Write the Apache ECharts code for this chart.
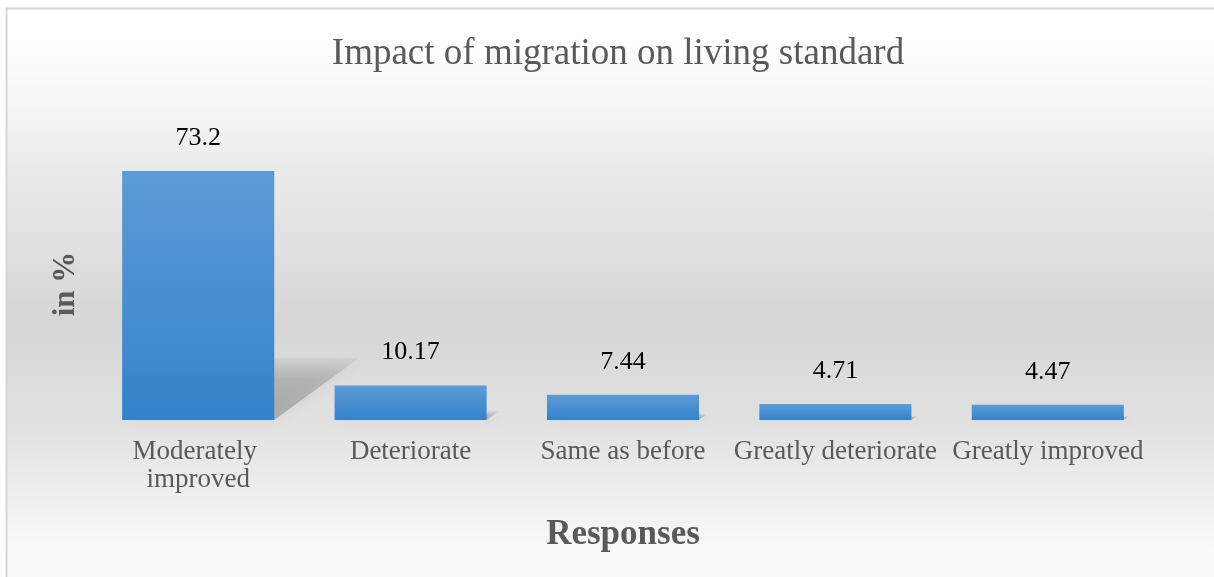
<!DOCTYPE html>
<html>
<head>
<meta charset="utf-8">
<script src="https://cdn.jsdelivr.net/npm/echarts@6/dist/echarts.min.js"></script>
<style>
html,body{margin:0;padding:0;background:#fff;}
#chart{width:1214px;height:577px;}
</style>
</head>
<body>
<div id="chart"></div>
<script>
const titleText = 'Impact of migration on living standard';
const categories = ['Moderately improved', 'Deteriorate', 'Same as before', 'Greatly deteriorate', 'Greatly improved'];
const values = [73.2, 10.17, 7.44, 4.71, 4.47];
const xAxisName = 'Responses';
const yAxisName = 'in %';

const serif = '"Liberation Serif", "DejaVu Serif", serif';
const chart = echarts.init(document.getElementById('chart'), null, {renderer: 'canvas'});

const shadowData = values.map((v, i) => [i, v]);

chart.setOption({
  animation: false,
  graphic: [{
    type: 'rect',
    z: -10,
    silent: true,
    shape: {x: 6.5, y: 8.5, width: 1220, height: 600},
    style: {
      fill: new echarts.graphic.LinearGradient(0, 0, 0, 1, [
        {offset: 0, color: '#ffffff'},
        {offset: 0.08, color: '#fdfdfd'},
        {offset: 0.30, color: '#e8e8e8'},
        {offset: 0.52, color: '#d6d6d6'},
        {offset: 0.70, color: '#e2e2e2'},
        {offset: 0.90, color: '#f9f9f9'},
        {offset: 1, color: '#ffffff'}
      ]),
      stroke: '#d6d6d6',
      lineWidth: 2
    }
  }],
  title: {
    text: titleText,
    left: 613,
    textAlign: 'center',
    top: 31,
    textStyle: {fontFamily: serif, fontWeight: 'normal', fontSize: 37, color: '#595959'}
  },
  grid: {left: 92, right: 60, top: 148, bottom: 157, containLabel: false},
  xAxis: {
    type: 'category',
    data: categories,
    axisLine: {show: false},
    axisTick: {show: false},
    axisLabel: {
      interval: 0,
      margin: 18,
      fontFamily: serif,
      fontSize: 27,
      color: '#595959',
      lineHeight: 28,
      width: 210,
      overflow: 'break'
    },
    name: xAxisName,
    nameLocation: 'middle',
    nameGap: 97,
    nameTextStyle: {fontFamily: serif, fontWeight: 'bold', fontSize: 35, color: '#595959'}
  },
  yAxis: {
    type: 'value',
    min: 0,
    max: 80,
    interval: 10,
    axisLine: {show: false},
    axisTick: {show: false},
    axisLabel: {show: false},
    splitLine: {show: false},
    name: yAxisName,
    nameLocation: 'middle',
    nameGap: 11,
    nameRotate: 90,
    nameTextStyle: {fontFamily: serif, fontWeight: 'bold', fontSize: 31, color: '#595959'}
  },
  series: [{
    type: 'custom',
    z: 1,
    silent: true,
    data: shadowData,
    encode: {x: 0, y: 1},
    renderItem: function (params, api) {
      const i = api.value(0);
      const v = api.value(1);
      const base = api.coord([i, 0]);
      const top = api.coord([i, v]);
      const w = api.size([1, 0])[0] * 0.716;
      const x0 = base[0] - w / 2, x1 = base[0] + w / 2;
      const by = base[1];
      const h = (base[1] - top[1]) * 0.25;
      const skew = h * 1.37;
      return {
        type: 'polygon',
        shape: {points: [[x0, by], [x1, by], [x1 + skew, by - h], [x0 + skew, by - h]]},
        style: {
          fill: new echarts.graphic.LinearGradient(0, 0, 0, 1, [
            {offset: 0, color: 'rgba(0,0,0,0.04)'},
            {offset: 0.35, color: 'rgba(0,0,0,0.16)'},
            {offset: 1, color: 'rgba(0,0,0,0.22)'}
          ]),
          shadowBlur: 14,
          shadowColor: 'rgba(0,0,0,0.25)'
        }
      };
    }
  }, {
    type: 'bar',
    z: 2,
    data: values,
    barCategoryGap: '28.4%',
    itemStyle: {
      color: new echarts.graphic.LinearGradient(0, 0, 0, 1, [
        {offset: 0, color: '#5c9cd6'},
        {offset: 1, color: '#3482cb'}
      ])
    },
    label: {
      show: true,
      position: 'top',
      distance: 20,
      fontFamily: serif,
      fontSize: 26,
      color: '#000000'
    }
  }]
});
</script>
</body>
</html>
